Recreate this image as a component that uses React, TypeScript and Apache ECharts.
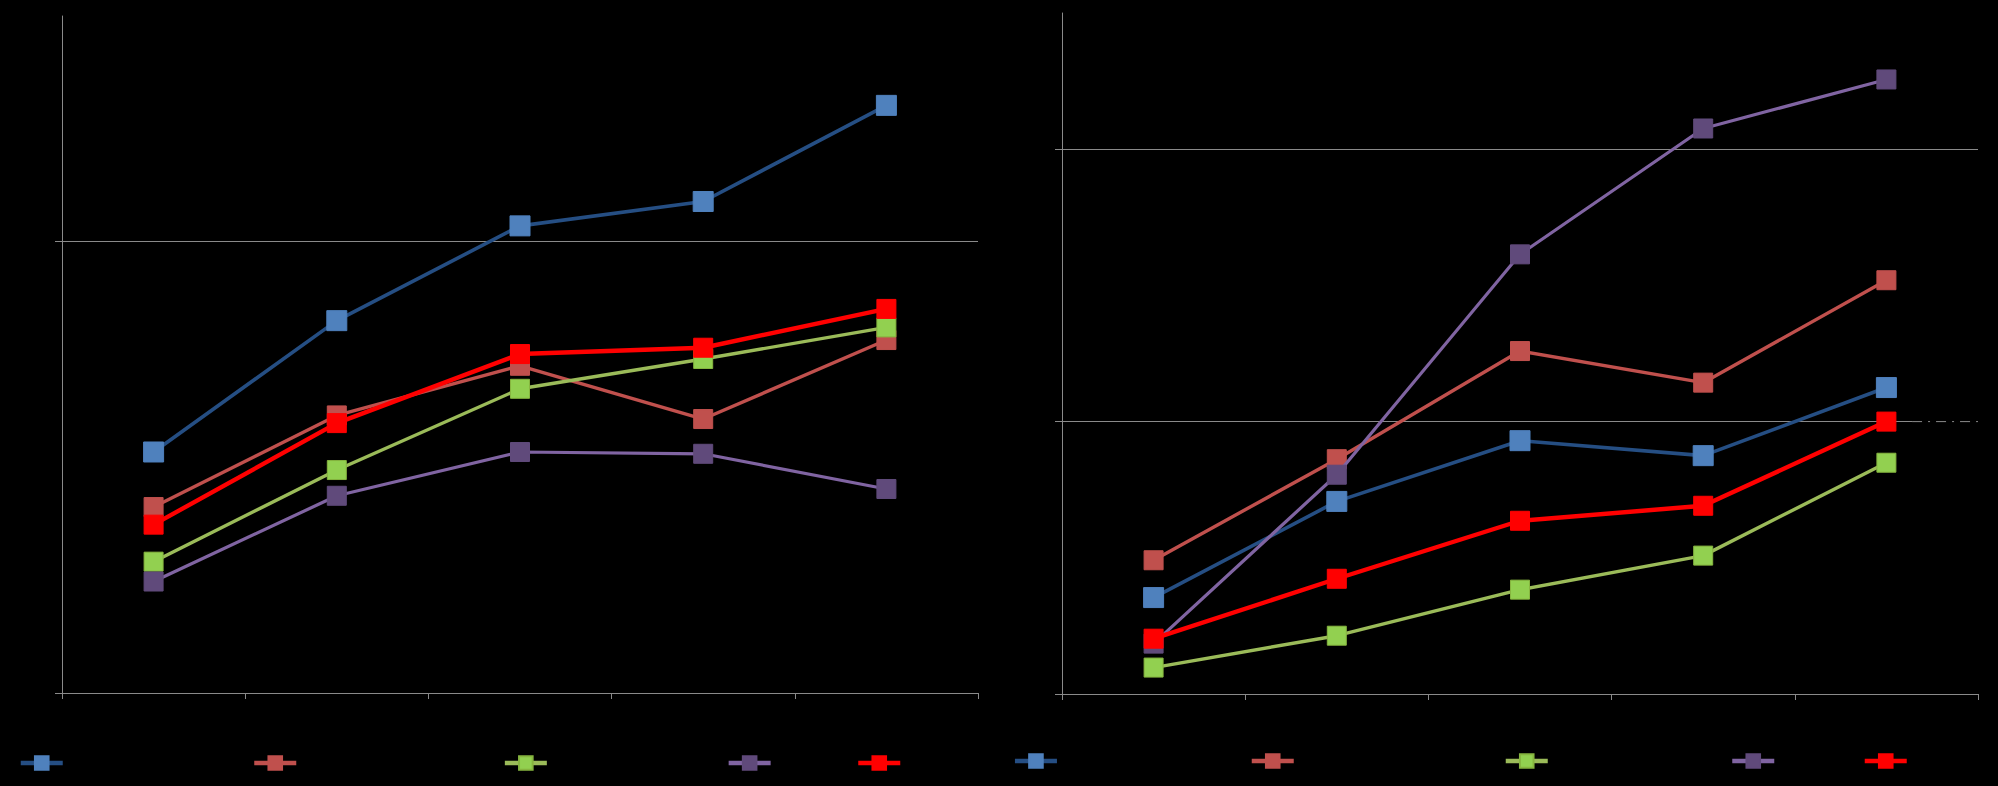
import React, { useEffect, useRef } from "react";
import * as echarts from "echarts";

// ---- data ----
const categories = ["1", "2", "3", "4", "5"];
const seriesNames = ["Series 1", "Series 2", "Series 3", "Series 4", "Series 5"];

// left panel
const leftBlue = [0.534, 0.825, 1.035, 1.089, 1.302];
const leftRed = [0.412, 0.615, 0.725, 0.607, 0.782];
const leftGreen = [0.291, 0.494, 0.674, 0.74, 0.81];
const leftPurple = [0.247, 0.437, 0.534, 0.53, 0.452];
const leftBrightRed = [0.373, 0.598, 0.751, 0.765, 0.851];

// right panel
const rightBlue = [0.354, 0.707, 0.93, 0.875, 1.125];
const rightRed = [0.491, 0.862, 1.259, 1.143, 1.519];
const rightGreen = [0.097, 0.214, 0.383, 0.508, 0.849];
const rightPurple = [0.185, 0.805, 1.614, 2.076, 2.256];
const rightBrightRed = [0.203, 0.423, 0.636, 0.691, 1.0];

// dash-dot tail on the right panel's middle gridline (x on a 0..5 scale, y value)
const tailX = [4.64, 5];
const tailY = 1;

const leftTicks = [0, 1];
const rightTicks = [0, 1, 2];

const lineColors = ["#254E83", "#C0504D", "#9BBB59", "#8064A2", "#FF0000"];
const markerColors = ["#4F81BD", "#C0504D", "#92D050", "#604A7B", "#FF0000"];
const markerBorders = ["#4F81BD", "#C0504D", "#86B53F", "#604A7B", "#FF0000"];
const lineWidths = [3.6, 3.4, 3.4, 3.2, 4.4];
const markerSizes = [20, 19, 19, 19, 19];

const leftLegendX = [39.5, 273, 523.6, 747.4, 877];
const rightLegendX = [1033.7, 1270.5, 1524.5, 1751, 1883.5];

export default function App() {
  const ref = useRef<HTMLDivElement>(null);

  useEffect(() => {
    document.body.style.margin = "0";
    document.body.style.background = "#000";
    const chart = echarts.init(ref.current!, null, { renderer: "svg" });

    const gray = "#8A8A8A";
    const mkX = (gridIndex: number) => ({
      type: "category",
      gridIndex,
      data: categories,
      boundaryGap: true,
      axisLine: { show: true, lineStyle: { color: gray, width: 1 } },
      axisTick: { show: true, length: 6, lineStyle: { color: gray } },
      axisLabel: { show: false },
      splitLine: { show: false },
    });
    const mkY = (gridIndex: number, max: number, ticks: number[]) => ({
      type: "value",
      gridIndex,
      min: 0,
      max,
      interval: 1,
      axisLine: { show: true, lineStyle: { color: gray, width: 1 } },
      axisTick: { show: true, length: 7, lineStyle: { color: gray }, customValues: ticks },
      axisLabel: { show: false },
      splitLine: {
        show: true,
        lineStyle: { color: ticks.map(() => gray).concat(["rgba(0,0,0,0)"]), width: 1 },
      },
    });

    const panels = [
      [leftBlue, leftRed, leftGreen, leftPurple, leftBrightRed],
      [rightBlue, rightRed, rightGreen, rightPurple, rightBrightRed],
    ];

    const series: any[] = [];
    panels.forEach((panel, p) => {
      panel.forEach((vals, i) => {
        series.push({
          type: "line",
          name: seriesNames[i],
          xAxisIndex: p,
          yAxisIndex: p,
          data: vals,
          symbol: "rect",
          symbolSize: markerSizes[i],
          showAllSymbol: true,
          lineStyle: { color: lineColors[i], width: lineWidths[i] },
          itemStyle: { color: markerColors[i], borderColor: markerBorders[i], borderWidth: 1 },
          z: 2 + i,
        });
      });
    });

    // dash-dot tail on the right panel
    series.push({
      type: "line",
      name: "tail-bg",
      xAxisIndex: 2,
      yAxisIndex: 1,
      data: tailX.map((x) => [x, tailY]),
      symbol: "none",
      silent: true,
      lineStyle: { color: "#000", width: 3 },
      z: 1,
    });
    series.push({
      type: "line",
      name: "tail",
      xAxisIndex: 2,
      yAxisIndex: 1,
      data: tailX.map((x) => [x, tailY]),
      symbol: "none",
      silent: true,
      lineStyle: { color: gray, width: 1, type: [10, 6, 2, 6] },
      z: 1,
    });

    const legends: any[] = [];
    const addLegends = (xs: number[], y: number) => {
      xs.forEach((cx, i) => {
        legends.push({
          data: [seriesNames[i]],
          left: cx - 21,
          top: y - 8.5,
          padding: 0,
          itemWidth: 42,
          itemHeight: 17,
          itemGap: 0,
          formatter: () => "",
          textStyle: { color: "#000", fontSize: 1 },
          lineStyle: { width: 4.5 },
          selectedMode: false,
        });
      });
    };
    addLegends(leftLegendX, 763);
    addLegends(rightLegendX, 761);

    chart.setOption({
      animation: false,
      backgroundColor: "#000",
      grid: [
        { left: 62, top: 16, width: 916, height: 677 },
        { left: 1062, top: 13, width: 916, height: 681 },
      ],
      xAxis: [
        mkX(0),
        mkX(1),
        { type: "value", gridIndex: 1, min: 0, max: 5, show: false },
      ],
      yAxis: [mkY(0, 1.5, leftTicks), mkY(1, 2.5, rightTicks)],
      legend: legends,
      series,
    });

    return () => chart.dispose();
  }, []);

  return <div ref={ref} style={{ width: 1998, height: 786, background: "#000" }} />;
}
